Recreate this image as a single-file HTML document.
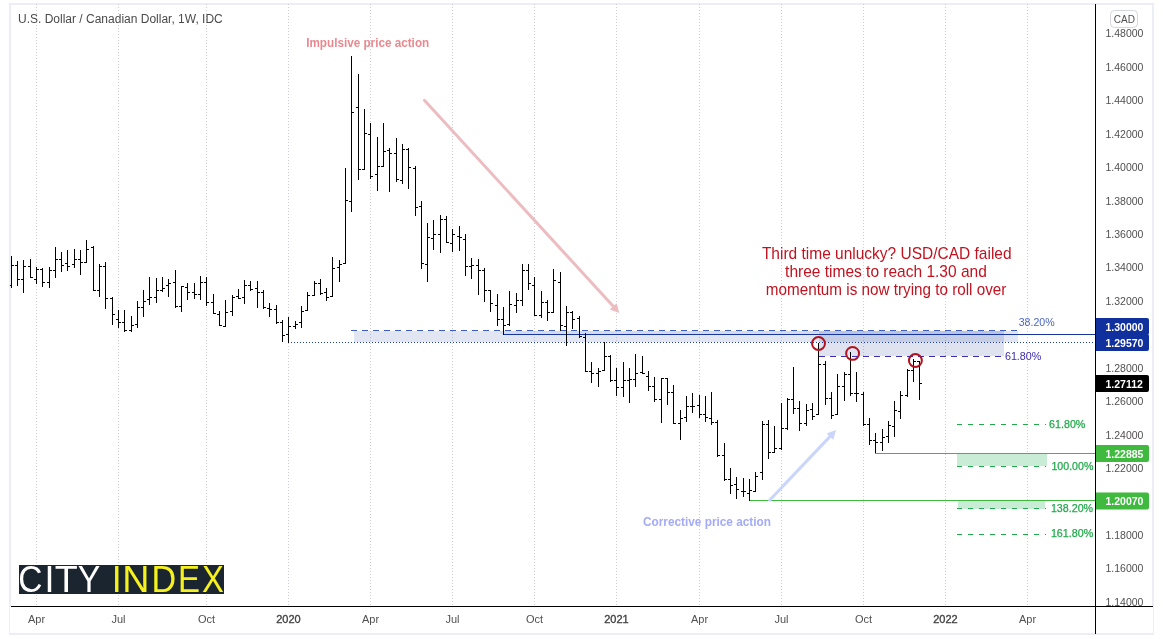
<!DOCTYPE html>
<html lang="en"><head><meta charset="utf-8"><title>USD/CAD weekly chart</title>
<style>
html,body{margin:0;padding:0;background:#fff;}
body{width:1163px;height:639px;overflow:hidden;}
svg{display:block;font-family:"Liberation Sans", Arial, sans-serif;}
.ax{font-size:10.5px;fill:#505050;}
.axb{font-size:10.5px;fill:#fff;font-weight:bold;}
.tm{font-size:11px;fill:#505050;text-anchor:middle;}
.tmb{font-size:11px;fill:#444;text-anchor:middle;stroke:#444;stroke-width:0.35px;}
</style></head><body>
<svg width="1163" height="639" viewBox="0 0 1163 639">
<rect x="0" y="0" width="1163" height="639" fill="#ffffff"/>

<g fill="#ecedf5" shape-rendering="crispEdges">
<rect x="9" y="3" width="1145" height="2"/>
<rect x="9" y="3" width="2" height="632"/>
<rect x="1152" y="3" width="2" height="632"/>
<rect x="9" y="633" width="1145" height="2"/>
</g>
<g stroke="#cccdd7" stroke-width="1" stroke-dasharray="1 2" shape-rendering="crispEdges">
<line x1="36.5" y1="4" x2="36.5" y2="606"/>
<line x1="118.5" y1="4" x2="118.5" y2="606"/>
<line x1="206.5" y1="4" x2="206.5" y2="606"/>
<line x1="288.5" y1="4" x2="288.5" y2="606"/>
<line x1="370.5" y1="4" x2="370.5" y2="606"/>
<line x1="452.5" y1="4" x2="452.5" y2="606"/>
<line x1="534.5" y1="4" x2="534.5" y2="606"/>
<line x1="616.5" y1="4" x2="616.5" y2="606"/>
<line x1="699.5" y1="4" x2="699.5" y2="606"/>
<line x1="781.5" y1="4" x2="781.5" y2="606"/>
<line x1="863.5" y1="4" x2="863.5" y2="606"/>
<line x1="945.5" y1="4" x2="945.5" y2="606"/>
<line x1="1027.5" y1="4" x2="1027.5" y2="606"/>
</g>
<g shape-rendering="crispEdges">
<rect x="354" y="331" width="664" height="11" fill="#3a55a8" fill-opacity="0.15"/>
<rect x="819" y="331" width="185" height="25" fill="#38509f" fill-opacity="0.16"/>
<rect x="500" y="331" width="504" height="3" fill="#3a55a8" fill-opacity="0.08"/>
<rect x="957" y="454" width="90" height="12" fill="#c9ecd7"/>
<rect x="958" y="501" width="87" height="8" fill="#c9ecd7"/>
</g>
<g shape-rendering="crispEdges" fill="none">
<line x1="351" y1="330.5" x2="1018" y2="330.5" stroke="#3d5cc0" stroke-width="1" stroke-dasharray="5.5 5.5"/>
<line x1="819" y1="356.5" x2="1001" y2="356.5" stroke="#3a2db4" stroke-width="1" stroke-dasharray="5.5 5.5"/>
<line x1="504" y1="334.5" x2="1095" y2="334.5" stroke="#17379f" stroke-width="1"/>
<line x1="288" y1="342.5" x2="1095" y2="342.5" stroke="#1a3ba6" stroke-width="1" stroke-dasharray="1 2"/>
<line x1="875" y1="453.5" x2="1095" y2="453.5" stroke="#3fba3f" stroke-width="1"/>
<line x1="749" y1="500.5" x2="1095" y2="500.5" stroke="#3fba3f" stroke-width="1"/>
<line x1="957" y1="424.5" x2="1046" y2="424.5" stroke="#1fa94a" stroke-width="1.2" stroke-dasharray="5 6" shape-rendering="auto"/>
<line x1="957" y1="466.5" x2="1046" y2="466.5" stroke="#1fa94a" stroke-width="1.2" stroke-dasharray="5 6" shape-rendering="auto"/>
<line x1="957" y1="508.5" x2="1046" y2="508.5" stroke="#1fa94a" stroke-width="1.2" stroke-dasharray="5 6" shape-rendering="auto"/>
<line x1="957" y1="534.5" x2="1046" y2="534.5" stroke="#1fa94a" stroke-width="1.2" stroke-dasharray="5 6" shape-rendering="auto"/>
</g>
<line x1="424.4" y1="100.3" x2="614.6" y2="307.7" stroke="#ecbcc0" stroke-width="3" stroke-linecap="round"/><polygon points="619.3,312.9 609.8,309.4 616.6,303.2" fill="#ecbcc0"/>
<line x1="769.6" y1="500.2" x2="831.3" y2="435.1" stroke="#c9d5fb" stroke-width="3" stroke-linecap="round"/><polygon points="836.1,430.0 833.3,439.7 826.6,433.4" fill="#c9d5fb"/>
<g fill="#000000" shape-rendering="crispEdges">
<rect x="11" y="256" width="1" height="32"/><rect x="10" y="285" width="1" height="1"/><rect x="12" y="265" width="2" height="1"/>
<rect x="17" y="261" width="1" height="25"/><rect x="15" y="265" width="2" height="1"/><rect x="18" y="279" width="2" height="1"/>
<rect x="23" y="260" width="1" height="33"/><rect x="21" y="279" width="2" height="1"/><rect x="24" y="266" width="2" height="1"/>
<rect x="30" y="259" width="1" height="19"/><rect x="28" y="266" width="2" height="1"/><rect x="31" y="277" width="2" height="1"/>
<rect x="36" y="267" width="1" height="17"/><rect x="34" y="279" width="2" height="1"/><rect x="37" y="269" width="2" height="1"/>
<rect x="42" y="268" width="1" height="19"/><rect x="40" y="269" width="2" height="1"/><rect x="43" y="282" width="2" height="1"/>
<rect x="49" y="267" width="1" height="21"/><rect x="47" y="282" width="2" height="1"/><rect x="50" y="270" width="2" height="1"/>
<rect x="55" y="247" width="1" height="31"/><rect x="53" y="270" width="2" height="1"/><rect x="56" y="259" width="2" height="1"/>
<rect x="61" y="252" width="1" height="20"/><rect x="59" y="259" width="2" height="1"/><rect x="62" y="265" width="2" height="1"/>
<rect x="67" y="250" width="1" height="21"/><rect x="65" y="263" width="2" height="1"/><rect x="68" y="266" width="2" height="1"/>
<rect x="74" y="249" width="1" height="19"/><rect x="72" y="264" width="2" height="1"/><rect x="75" y="259" width="2" height="1"/>
<rect x="80" y="250" width="1" height="25"/><rect x="78" y="259" width="2" height="1"/><rect x="81" y="262" width="2" height="1"/>
<rect x="86" y="240" width="1" height="23"/><rect x="84" y="262" width="2" height="1"/><rect x="87" y="249" width="2" height="1"/>
<rect x="93" y="246" width="1" height="45"/><rect x="91" y="247" width="2" height="1"/><rect x="94" y="290" width="2" height="1"/>
<rect x="99" y="264" width="1" height="33"/><rect x="97" y="290" width="2" height="1"/><rect x="100" y="266" width="2" height="1"/>
<rect x="105" y="262" width="1" height="47"/><rect x="103" y="266" width="2" height="1"/><rect x="106" y="298" width="2" height="1"/>
<rect x="112" y="297" width="1" height="28"/><rect x="110" y="298" width="2" height="1"/><rect x="113" y="314" width="2" height="1"/>
<rect x="118" y="310" width="1" height="18"/><rect x="116" y="319" width="2" height="1"/><rect x="119" y="322" width="2" height="1"/>
<rect x="124" y="310" width="1" height="22"/><rect x="122" y="322" width="2" height="1"/><rect x="125" y="330" width="2" height="1"/>
<rect x="131" y="316" width="1" height="16"/><rect x="129" y="330" width="2" height="1"/><rect x="132" y="325" width="2" height="1"/>
<rect x="137" y="301" width="1" height="27"/><rect x="135" y="324" width="2" height="1"/><rect x="138" y="307" width="2" height="1"/>
<rect x="143" y="290" width="1" height="27"/><rect x="141" y="307" width="2" height="1"/><rect x="144" y="301" width="2" height="1"/>
<rect x="149" y="277" width="1" height="28"/><rect x="147" y="299" width="2" height="1"/><rect x="150" y="297" width="2" height="1"/>
<rect x="156" y="278" width="1" height="25"/><rect x="154" y="297" width="2" height="1"/><rect x="157" y="290" width="2" height="1"/>
<rect x="162" y="277" width="1" height="15"/><rect x="160" y="290" width="2" height="1"/><rect x="163" y="288" width="2" height="1"/>
<rect x="168" y="279" width="1" height="18"/><rect x="166" y="285" width="2" height="1"/><rect x="169" y="283" width="2" height="1"/>
<rect x="175" y="270" width="1" height="38"/><rect x="173" y="282" width="2" height="1"/><rect x="176" y="306" width="2" height="1"/>
<rect x="181" y="286" width="1" height="26"/><rect x="179" y="306" width="2" height="1"/><rect x="182" y="286" width="2" height="1"/>
<rect x="187" y="283" width="1" height="17"/><rect x="185" y="287" width="2" height="1"/><rect x="188" y="292" width="2" height="1"/>
<rect x="194" y="283" width="1" height="16"/><rect x="192" y="292" width="2" height="1"/><rect x="195" y="294" width="2" height="1"/>
<rect x="200" y="276" width="1" height="24"/><rect x="198" y="294" width="2" height="1"/><rect x="201" y="282" width="2" height="1"/>
<rect x="206" y="277" width="1" height="29"/><rect x="204" y="282" width="2" height="1"/><rect x="207" y="302" width="2" height="1"/>
<rect x="213" y="294" width="1" height="20"/><rect x="211" y="302" width="2" height="1"/><rect x="214" y="313" width="2" height="1"/>
<rect x="219" y="311" width="1" height="15"/><rect x="217" y="314" width="2" height="1"/><rect x="220" y="325" width="2" height="1"/>
<rect x="225" y="300" width="1" height="27"/><rect x="223" y="326" width="2" height="1"/><rect x="226" y="312" width="2" height="1"/>
<rect x="232" y="295" width="1" height="21"/><rect x="230" y="311" width="2" height="1"/><rect x="233" y="297" width="2" height="1"/>
<rect x="238" y="289" width="1" height="10"/><rect x="236" y="296" width="2" height="1"/><rect x="239" y="298" width="2" height="1"/>
<rect x="244" y="280" width="1" height="24"/><rect x="242" y="297" width="2" height="1"/><rect x="245" y="285" width="2" height="1"/>
<rect x="250" y="281" width="1" height="10"/><rect x="248" y="285" width="2" height="1"/><rect x="251" y="289" width="2" height="1"/>
<rect x="257" y="281" width="1" height="27"/><rect x="255" y="288" width="2" height="1"/><rect x="258" y="292" width="2" height="1"/>
<rect x="263" y="290" width="1" height="19"/><rect x="261" y="292" width="2" height="1"/><rect x="264" y="307" width="2" height="1"/>
<rect x="269" y="303" width="1" height="14"/><rect x="267" y="308" width="2" height="1"/><rect x="270" y="309" width="2" height="1"/>
<rect x="276" y="305" width="1" height="19"/><rect x="274" y="309" width="2" height="1"/><rect x="277" y="322" width="2" height="1"/>
<rect x="282" y="320" width="1" height="22"/><rect x="280" y="322" width="2" height="1"/><rect x="283" y="335" width="2" height="1"/>
<rect x="288" y="317" width="1" height="26"/><rect x="286" y="334" width="2" height="1"/><rect x="289" y="326" width="2" height="1"/>
<rect x="295" y="321" width="1" height="8"/><rect x="293" y="326" width="2" height="1"/><rect x="296" y="324" width="2" height="1"/>
<rect x="301" y="306" width="1" height="22"/><rect x="299" y="322" width="2" height="1"/><rect x="302" y="311" width="2" height="1"/>
<rect x="307" y="292" width="1" height="19"/><rect x="305" y="310" width="2" height="1"/><rect x="308" y="295" width="2" height="1"/>
<rect x="314" y="281" width="1" height="15"/><rect x="312" y="295" width="2" height="1"/><rect x="315" y="283" width="2" height="1"/>
<rect x="320" y="279" width="1" height="16"/><rect x="318" y="283" width="2" height="1"/><rect x="321" y="293" width="2" height="1"/>
<rect x="326" y="288" width="1" height="13"/><rect x="324" y="292" width="2" height="1"/><rect x="327" y="297" width="2" height="1"/>
<rect x="332" y="257" width="1" height="40"/><rect x="330" y="296" width="2" height="1"/><rect x="333" y="268" width="2" height="1"/>
<rect x="339" y="260" width="1" height="22"/><rect x="337" y="267" width="2" height="1"/><rect x="340" y="264" width="2" height="1"/>
<rect x="345" y="168" width="1" height="96"/><rect x="343" y="263" width="2" height="1"/><rect x="346" y="200" width="2" height="1"/>
<rect x="351" y="56" width="1" height="156"/><rect x="349" y="201" width="2" height="1"/><rect x="352" y="112" width="2" height="1"/>
<rect x="358" y="74" width="1" height="106"/><rect x="356" y="107" width="2" height="1"/><rect x="359" y="169" width="2" height="1"/>
<rect x="364" y="109" width="1" height="61"/><rect x="362" y="169" width="2" height="1"/><rect x="365" y="133" width="2" height="1"/>
<rect x="370" y="123" width="1" height="56"/><rect x="368" y="134" width="2" height="1"/><rect x="371" y="176" width="2" height="1"/>
<rect x="377" y="137" width="1" height="54"/><rect x="375" y="174" width="2" height="1"/><rect x="378" y="166" width="2" height="1"/>
<rect x="383" y="123" width="1" height="44"/><rect x="381" y="166" width="2" height="1"/><rect x="384" y="151" width="2" height="1"/>
<rect x="389" y="148" width="1" height="44"/><rect x="387" y="150" width="2" height="1"/><rect x="390" y="153" width="2" height="1"/>
<rect x="396" y="138" width="1" height="44"/><rect x="394" y="153" width="2" height="1"/><rect x="397" y="179" width="2" height="1"/>
<rect x="402" y="144" width="1" height="40"/><rect x="400" y="180" width="2" height="1"/><rect x="403" y="149" width="2" height="1"/>
<rect x="408" y="148" width="1" height="41"/><rect x="406" y="149" width="2" height="1"/><rect x="409" y="167" width="2" height="1"/>
<rect x="415" y="166" width="1" height="50"/><rect x="413" y="168" width="2" height="1"/><rect x="416" y="207" width="2" height="1"/>
<rect x="421" y="201" width="1" height="68"/><rect x="419" y="206" width="2" height="1"/><rect x="422" y="263" width="2" height="1"/>
<rect x="427" y="223" width="1" height="59"/><rect x="425" y="264" width="2" height="1"/><rect x="428" y="237" width="2" height="1"/>
<rect x="433" y="220" width="1" height="30"/><rect x="431" y="238" width="2" height="1"/><rect x="434" y="234" width="2" height="1"/>
<rect x="440" y="215" width="1" height="38"/><rect x="438" y="234" width="2" height="1"/><rect x="441" y="219" width="2" height="1"/>
<rect x="446" y="216" width="1" height="27"/><rect x="444" y="219" width="2" height="1"/><rect x="447" y="242" width="2" height="1"/>
<rect x="452" y="229" width="1" height="23"/><rect x="450" y="243" width="2" height="1"/><rect x="453" y="234" width="2" height="1"/>
<rect x="459" y="226" width="1" height="25"/><rect x="457" y="236" width="2" height="1"/><rect x="460" y="237" width="2" height="1"/>
<rect x="465" y="234" width="1" height="42"/><rect x="463" y="239" width="2" height="1"/><rect x="466" y="266" width="2" height="1"/>
<rect x="471" y="258" width="1" height="21"/><rect x="469" y="266" width="2" height="1"/><rect x="472" y="265" width="2" height="1"/>
<rect x="478" y="259" width="1" height="36"/><rect x="476" y="265" width="2" height="1"/><rect x="479" y="270" width="2" height="1"/>
<rect x="484" y="268" width="1" height="34"/><rect x="482" y="270" width="2" height="1"/><rect x="485" y="290" width="2" height="1"/>
<rect x="490" y="290" width="1" height="22"/><rect x="488" y="290" width="2" height="1"/><rect x="491" y="303" width="2" height="1"/>
<rect x="497" y="294" width="1" height="32"/><rect x="495" y="305" width="2" height="1"/><rect x="498" y="319" width="2" height="1"/>
<rect x="503" y="307" width="1" height="28"/><rect x="501" y="319" width="2" height="1"/><rect x="504" y="325" width="2" height="1"/>
<rect x="509" y="291" width="1" height="35"/><rect x="507" y="324" width="2" height="1"/><rect x="510" y="304" width="2" height="1"/>
<rect x="516" y="293" width="1" height="20"/><rect x="514" y="305" width="2" height="1"/><rect x="517" y="300" width="2" height="1"/>
<rect x="522" y="264" width="1" height="42"/><rect x="520" y="300" width="2" height="1"/><rect x="523" y="270" width="2" height="1"/>
<rect x="528" y="264" width="1" height="26"/><rect x="526" y="270" width="2" height="1"/><rect x="529" y="283" width="2" height="1"/>
<rect x="534" y="277" width="1" height="39"/><rect x="532" y="285" width="2" height="1"/><rect x="535" y="315" width="2" height="1"/>
<rect x="541" y="291" width="1" height="27"/><rect x="539" y="315" width="2" height="1"/><rect x="542" y="302" width="2" height="1"/>
<rect x="547" y="300" width="1" height="21"/><rect x="545" y="302" width="2" height="1"/><rect x="548" y="312" width="2" height="1"/>
<rect x="553" y="269" width="1" height="44"/><rect x="551" y="312" width="2" height="1"/><rect x="554" y="280" width="2" height="1"/>
<rect x="560" y="272" width="1" height="59"/><rect x="558" y="282" width="2" height="1"/><rect x="561" y="325" width="2" height="1"/>
<rect x="566" y="306" width="1" height="40"/><rect x="564" y="326" width="2" height="1"/><rect x="567" y="312" width="2" height="1"/>
<rect x="572" y="311" width="1" height="18"/><rect x="570" y="312" width="2" height="1"/><rect x="573" y="319" width="2" height="1"/>
<rect x="579" y="316" width="1" height="22"/><rect x="577" y="318" width="2" height="1"/><rect x="580" y="336" width="2" height="1"/>
<rect x="585" y="333" width="1" height="39"/><rect x="583" y="337" width="2" height="1"/><rect x="586" y="371" width="2" height="1"/>
<rect x="591" y="362" width="1" height="21"/><rect x="589" y="371" width="2" height="1"/><rect x="592" y="373" width="2" height="1"/>
<rect x="598" y="368" width="1" height="19"/><rect x="596" y="373" width="2" height="1"/><rect x="599" y="371" width="2" height="1"/>
<rect x="604" y="342" width="1" height="29"/><rect x="602" y="370" width="2" height="1"/><rect x="605" y="356" width="2" height="1"/>
<rect x="610" y="355" width="1" height="27"/><rect x="608" y="356" width="2" height="1"/><rect x="611" y="380" width="2" height="1"/>
<rect x="616" y="368" width="1" height="28"/><rect x="614" y="380" width="2" height="1"/><rect x="617" y="387" width="2" height="1"/>
<rect x="623" y="362" width="1" height="35"/><rect x="621" y="387" width="2" height="1"/><rect x="624" y="380" width="2" height="1"/>
<rect x="629" y="368" width="1" height="35"/><rect x="627" y="380" width="2" height="1"/><rect x="630" y="379" width="2" height="1"/>
<rect x="635" y="354" width="1" height="33"/><rect x="633" y="379" width="2" height="1"/><rect x="636" y="373" width="2" height="1"/>
<rect x="642" y="356" width="1" height="18"/><rect x="640" y="372" width="2" height="1"/><rect x="643" y="373" width="2" height="1"/>
<rect x="648" y="371" width="1" height="20"/><rect x="646" y="376" width="2" height="1"/><rect x="649" y="386" width="2" height="1"/>
<rect x="654" y="377" width="1" height="25"/><rect x="652" y="386" width="2" height="1"/><rect x="655" y="399" width="2" height="1"/>
<rect x="661" y="378" width="1" height="45"/><rect x="659" y="399" width="2" height="1"/><rect x="662" y="378" width="2" height="1"/>
<rect x="667" y="378" width="1" height="27"/><rect x="665" y="378" width="2" height="1"/><rect x="668" y="392" width="2" height="1"/>
<rect x="673" y="385" width="1" height="39"/><rect x="671" y="392" width="2" height="1"/><rect x="674" y="423" width="2" height="1"/>
<rect x="680" y="410" width="1" height="30"/><rect x="678" y="423" width="2" height="1"/><rect x="681" y="418" width="2" height="1"/>
<rect x="686" y="396" width="1" height="26"/><rect x="684" y="417" width="2" height="1"/><rect x="687" y="406" width="2" height="1"/>
<rect x="692" y="393" width="1" height="20"/><rect x="690" y="406" width="2" height="1"/><rect x="693" y="406" width="2" height="1"/>
<rect x="699" y="395" width="1" height="23"/><rect x="697" y="405" width="2" height="1"/><rect x="700" y="414" width="2" height="1"/>
<rect x="705" y="396" width="1" height="26"/><rect x="703" y="414" width="2" height="1"/><rect x="706" y="417" width="2" height="1"/>
<rect x="711" y="392" width="1" height="33"/><rect x="709" y="418" width="2" height="1"/><rect x="712" y="422" width="2" height="1"/>
<rect x="717" y="420" width="1" height="37"/><rect x="715" y="422" width="2" height="1"/><rect x="718" y="455" width="2" height="1"/>
<rect x="724" y="443" width="1" height="38"/><rect x="722" y="455" width="2" height="1"/><rect x="725" y="479" width="2" height="1"/>
<rect x="730" y="468" width="1" height="26"/><rect x="728" y="479" width="2" height="1"/><rect x="731" y="485" width="2" height="1"/>
<rect x="736" y="477" width="1" height="22"/><rect x="734" y="484" width="2" height="1"/><rect x="737" y="489" width="2" height="1"/>
<rect x="743" y="478" width="1" height="19"/><rect x="741" y="491" width="2" height="1"/><rect x="744" y="491" width="2" height="1"/>
<rect x="749" y="479" width="1" height="22"/><rect x="747" y="493" width="2" height="1"/><rect x="750" y="490" width="2" height="1"/>
<rect x="755" y="472" width="1" height="20"/><rect x="753" y="491" width="2" height="1"/><rect x="756" y="476" width="2" height="1"/>
<rect x="762" y="421" width="1" height="59"/><rect x="760" y="472" width="2" height="1"/><rect x="763" y="424" width="2" height="1"/>
<rect x="768" y="420" width="1" height="39"/><rect x="766" y="424" width="2" height="1"/><rect x="769" y="452" width="2" height="1"/>
<rect x="774" y="426" width="1" height="27"/><rect x="772" y="452" width="2" height="1"/><rect x="775" y="448" width="2" height="1"/>
<rect x="781" y="403" width="1" height="47"/><rect x="779" y="448" width="2" height="1"/><rect x="782" y="428" width="2" height="1"/>
<rect x="787" y="398" width="1" height="32"/><rect x="785" y="428" width="2" height="1"/><rect x="788" y="399" width="2" height="1"/>
<rect x="793" y="367" width="1" height="47"/><rect x="791" y="399" width="2" height="1"/><rect x="794" y="408" width="2" height="1"/>
<rect x="799" y="401" width="1" height="30"/><rect x="797" y="408" width="2" height="1"/><rect x="800" y="423" width="2" height="1"/>
<rect x="806" y="404" width="1" height="22"/><rect x="804" y="423" width="2" height="1"/><rect x="807" y="410" width="2" height="1"/>
<rect x="812" y="403" width="1" height="17"/><rect x="810" y="409" width="2" height="1"/><rect x="813" y="416" width="2" height="1"/>
<rect x="818" y="343" width="1" height="72"/><rect x="816" y="414" width="2" height="1"/><rect x="819" y="364" width="2" height="1"/>
<rect x="825" y="361" width="1" height="44"/><rect x="823" y="364" width="2" height="1"/><rect x="826" y="398" width="2" height="1"/>
<rect x="831" y="392" width="1" height="27"/><rect x="829" y="398" width="2" height="1"/><rect x="832" y="415" width="2" height="1"/>
<rect x="837" y="374" width="1" height="41"/><rect x="835" y="414" width="2" height="1"/><rect x="838" y="386" width="2" height="1"/>
<rect x="844" y="372" width="1" height="29"/><rect x="842" y="386" width="2" height="1"/><rect x="845" y="374" width="2" height="1"/>
<rect x="850" y="352" width="1" height="44"/><rect x="848" y="374" width="2" height="1"/><rect x="851" y="393" width="2" height="1"/>
<rect x="856" y="372" width="1" height="30"/><rect x="854" y="393" width="2" height="1"/><rect x="857" y="393" width="2" height="1"/>
<rect x="863" y="392" width="1" height="34"/><rect x="861" y="394" width="2" height="1"/><rect x="864" y="424" width="2" height="1"/>
<rect x="869" y="418" width="1" height="27"/><rect x="867" y="424" width="2" height="1"/><rect x="870" y="440" width="2" height="1"/>
<rect x="875" y="433" width="1" height="20"/><rect x="873" y="440" width="2" height="1"/><rect x="876" y="442" width="2" height="1"/>
<rect x="882" y="429" width="1" height="22"/><rect x="880" y="442" width="2" height="1"/><rect x="883" y="437" width="2" height="1"/>
<rect x="888" y="421" width="1" height="22"/><rect x="886" y="436" width="2" height="1"/><rect x="889" y="425" width="2" height="1"/>
<rect x="894" y="401" width="1" height="36"/><rect x="892" y="426" width="2" height="1"/><rect x="895" y="410" width="2" height="1"/>
<rect x="900" y="391" width="1" height="28"/><rect x="898" y="411" width="2" height="1"/><rect x="901" y="395" width="2" height="1"/>
<rect x="907" y="369" width="1" height="28"/><rect x="905" y="395" width="2" height="1"/><rect x="908" y="370" width="2" height="1"/>
<rect x="913" y="359" width="1" height="23"/><rect x="911" y="370" width="2" height="1"/><rect x="914" y="361" width="2" height="1"/>
<rect x="919" y="361" width="1" height="39"/><rect x="917" y="361" width="2" height="1"/><rect x="920" y="383" width="2" height="1"/>
</g>
<g fill="none" stroke="#b4121c" stroke-width="2">
<circle cx="818.5" cy="343.5" r="6.45"/>
<circle cx="852.6" cy="353.4" r="6.45"/>
<circle cx="915.4" cy="360.5" r="6.45"/>
</g>
<text x="306.2" y="46.7" font-size="12" font-weight="bold" fill="#e8898f" textLength="123" lengthAdjust="spacingAndGlyphs">Impulsive price action</text>
<text x="643" y="525.8" font-size="12" font-weight="bold" fill="#a3abf7" textLength="128" lengthAdjust="spacingAndGlyphs">Corrective price action</text>
<g font-size="16.6" fill="#c1121f">
<text x="761.9" y="258.7" textLength="249.7" lengthAdjust="spacingAndGlyphs">Third time unlucky? USD/CAD failed</text>
<text x="785.1" y="276.7" textLength="201.7" lengthAdjust="spacingAndGlyphs">three times to reach 1.30 and</text>
<text x="765.8" y="294.6" textLength="240.6" lengthAdjust="spacingAndGlyphs">momentum is now trying to roll over</text>
</g>
<text x="1018.7" y="326.3" font-size="11.8" fill="#4a66c2" textLength="35.9" lengthAdjust="spacingAndGlyphs">38.20%</text>
<text x="1004.9" y="359.5" font-size="11.8" fill="#3d2db0" textLength="36.5" lengthAdjust="spacingAndGlyphs">61.80%</text>
<g font-size="11.8" fill="#1fa94a" stroke="#1fa94a" stroke-width="0.25">
<text x="1049.1" y="427.7" textLength="36.3" lengthAdjust="spacingAndGlyphs">61.80%</text>
<text x="1051.4" y="469.5" textLength="42" lengthAdjust="spacingAndGlyphs">100.00%</text>
<text x="1050.9" y="512" textLength="42.2" lengthAdjust="spacingAndGlyphs">138.20%</text>
<text x="1050.9" y="537.3" textLength="42.4" lengthAdjust="spacingAndGlyphs">161.80%</text>
</g>
<text x="18" y="22.7" font-size="12" fill="#4a4a4a">U.S. Dollar / Canadian Dollar, 1W, IDC</text>
<rect x="19" y="565" width="205" height="29" fill="#1a2530"/>
<g font-size="36.8" stroke-linejoin="round">
<text transform="translate(18.23,591.8) scale(0.91,1)" x="0" y="0" fill="#ffffff">C</text>
<text transform="translate(44.38,591.8) scale(0.973,1)" x="0" y="0" fill="#ffffff">I</text>
<text transform="translate(54.76,591.8) scale(1.024,1)" x="0" y="0" fill="#ffffff">T</text>
<text transform="translate(77.75,591.8) scale(0.92,1)" x="0" y="0" fill="#ffffff">Y</text>
<text transform="translate(111.68,591.8) scale(0.973,1)" x="0" y="0" fill="#f6f11d">I</text>
<text transform="translate(122.29,591.8) scale(1.024,1)" x="0" y="0" fill="#f6f11d">N</text>
<text transform="translate(151.47,591.8) scale(0.927,1)" x="0" y="0" fill="#f6f11d">D</text>
<text transform="translate(178.06,591.8) scale(0.897,1)" x="0" y="0" fill="#f6f11d">E</text>
<text transform="translate(202.08,591.8) scale(0.89,1)" x="0" y="0" fill="#f6f11d">X</text>
</g>
<g shape-rendering="crispEdges">
<rect x="1096" y="5" width="56" height="601" fill="#ffffff"/>
</g>
<g class="ax">
<text x="1105.5" y="37.3">1.48000</text>
<text x="1105.5" y="70.8">1.46000</text>
<text x="1105.5" y="104.2">1.44000</text>
<text x="1105.5" y="137.7">1.42000</text>
<text x="1105.5" y="171.1">1.40000</text>
<text x="1105.5" y="204.5">1.38000</text>
<text x="1105.5" y="238.0">1.36000</text>
<text x="1105.5" y="271.4">1.34000</text>
<text x="1105.5" y="304.9">1.32000</text>
<text x="1105.5" y="338.3">1.30000</text>
<text x="1105.5" y="371.7">1.28000</text>
<text x="1105.5" y="405.2">1.26000</text>
<text x="1105.5" y="438.6">1.24000</text>
<text x="1105.5" y="472.1">1.22000</text>
<text x="1105.5" y="505.5">1.20000</text>
<text x="1105.5" y="538.9">1.18000</text>
<text x="1105.5" y="572.4">1.16000</text>
<text x="1105.5" y="605.8">1.14000</text>
</g>
<g shape-rendering="crispEdges">
<rect x="10" y="607" width="1143" height="26" fill="#ffffff"/>
<rect x="1095" y="4" width="1" height="630" fill="#000"/>
<rect x="11" y="606" width="1142" height="1" fill="#000"/>
</g>
<rect x="1110.5" y="10.5" width="27" height="17" rx="4" ry="4" fill="#fff" stroke="#d4d7e0" stroke-width="1"/>
<text x="1124.3" y="22.6" font-size="10" fill="#505050" text-anchor="middle">CAD</text>
<path d="M1096 318H1147a2 2 0 0 1 2 2V333a2 2 0 0 1 -2 2H1096Z" fill="#10309e"/><text class="axb" x="1105.5" y="330.8">1.30000</text>
<path d="M1096 334H1147a2 2 0 0 1 2 2V349a2 2 0 0 1 -2 2H1096Z" fill="#10309e"/><text class="axb" x="1105.5" y="346.9">1.29570</text>
<path d="M1096 375H1147a2 2 0 0 1 2 2V390a2 2 0 0 1 -2 2H1096Z" fill="#000000"/><text class="axb" x="1105.5" y="387.9">1.27112</text>
<path d="M1096 445H1147a2 2 0 0 1 2 2V460a2 2 0 0 1 -2 2H1096Z" fill="#3fba3f"/><text class="axb" x="1105.5" y="457.5">1.22885</text>
<path d="M1096 492.5H1147a2 2 0 0 1 2 2V507.5a2 2 0 0 1 -2 2H1096Z" fill="#3fba3f"/><text class="axb" x="1105.5" y="505">1.20070</text>
<text class="tm" x="36.5" y="622.7">Apr</text>
<text class="tm" x="118.5" y="622.7">Jul</text>
<text class="tm" x="206.5" y="622.7">Oct</text>
<text class="tmb" x="288.5" y="622.7">2020</text>
<text class="tm" x="370.5" y="622.7">Apr</text>
<text class="tm" x="452.5" y="622.7">Jul</text>
<text class="tm" x="534.5" y="622.7">Oct</text>
<text class="tmb" x="616.5" y="622.7">2021</text>
<text class="tm" x="699.5" y="622.7">Apr</text>
<text class="tm" x="781.5" y="622.7">Jul</text>
<text class="tm" x="863.5" y="622.7">Oct</text>
<text class="tmb" x="945.5" y="622.7">2022</text>
<text class="tm" x="1027.5" y="622.7">Apr</text>
</svg></body></html>
